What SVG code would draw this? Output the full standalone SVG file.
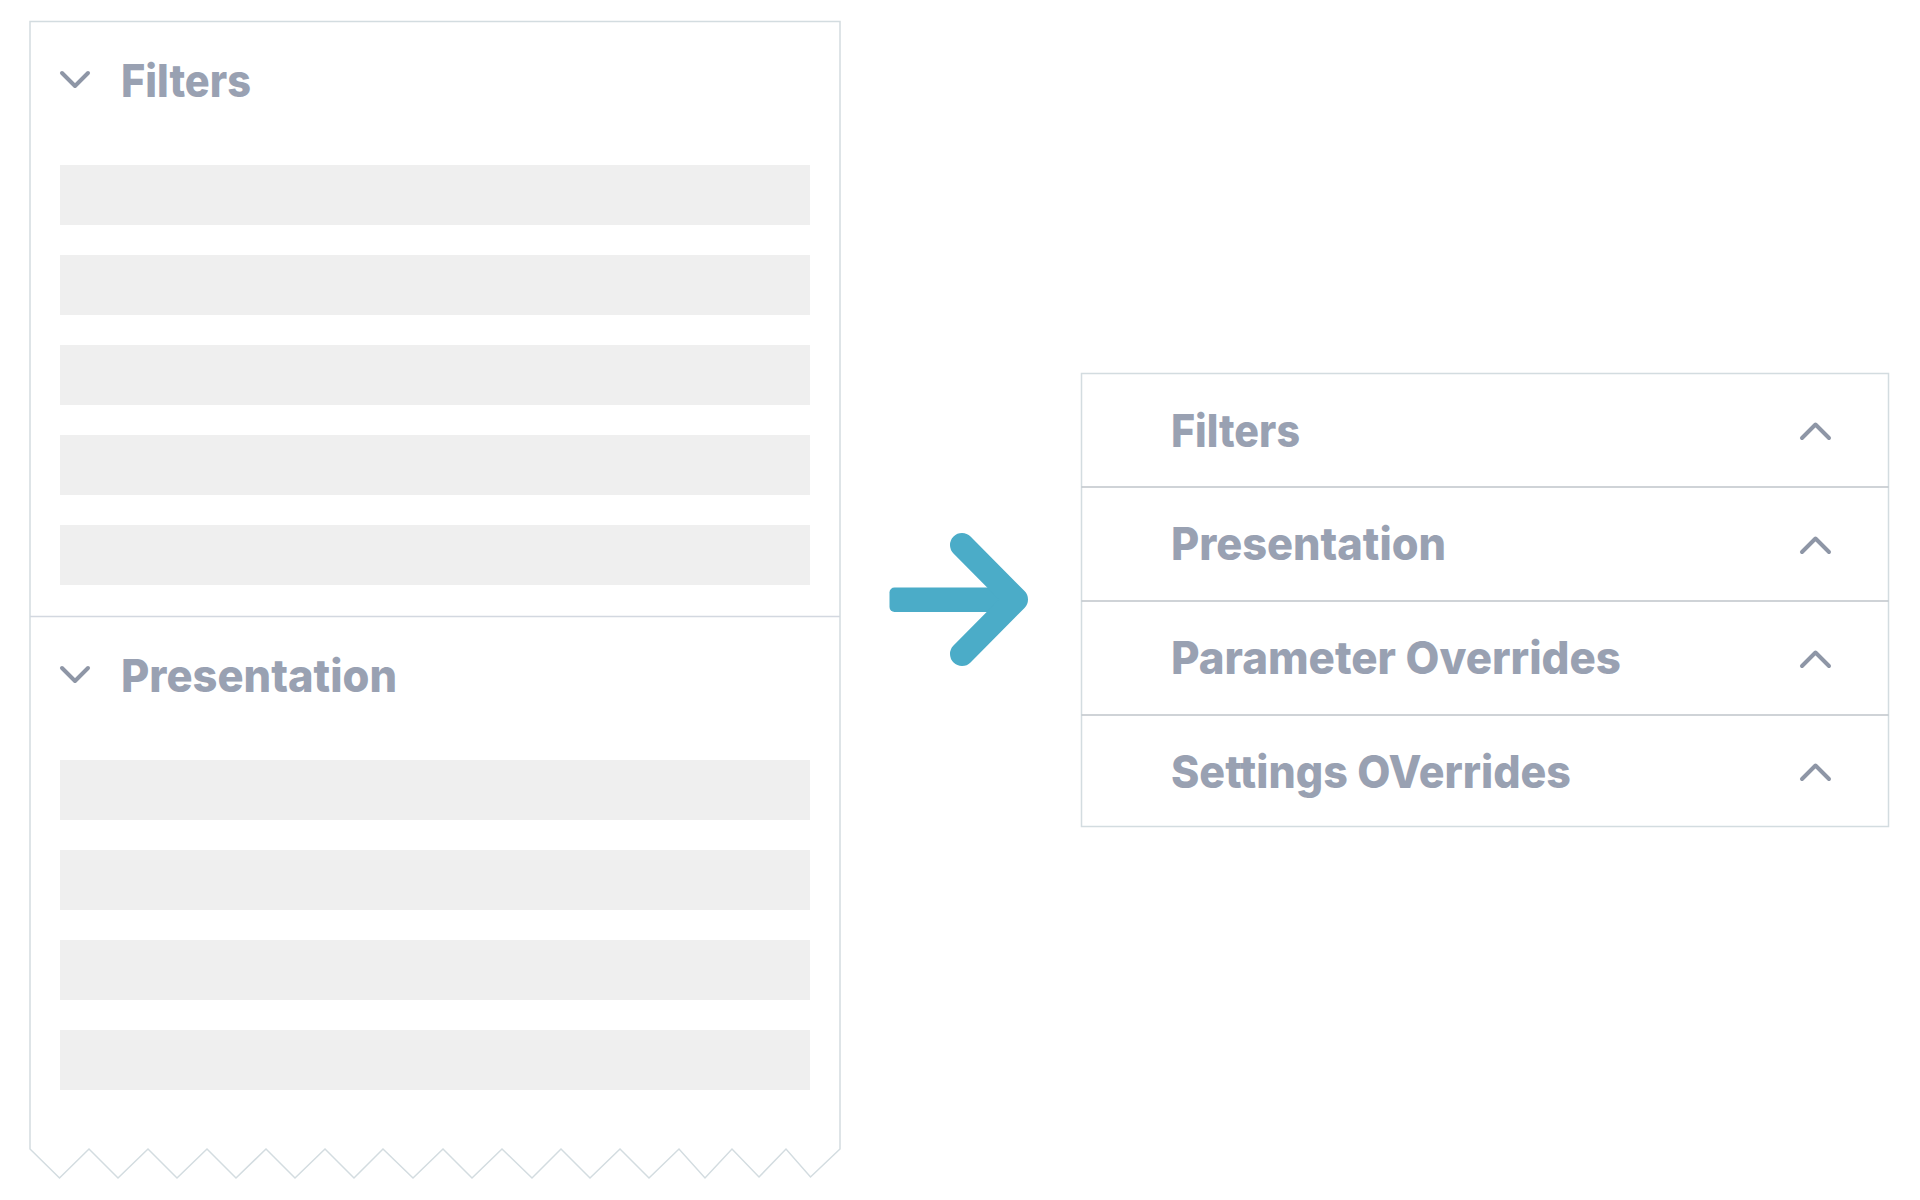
<svg xmlns="http://www.w3.org/2000/svg" width="1920" height="1200" viewBox="0 0 1920 1200">
<style>
.t{font-family:"Inter","Open Sans","Liberation Sans",sans-serif;font-weight:800;font-size:45px;fill:#99A1B2}
.bar{fill:#EFEFEF}
.chev{fill:none;stroke:#8E96A6;stroke-width:4;stroke-linecap:round;stroke-linejoin:round}
.brd{fill:none;stroke:#D3DCE0;stroke-width:1.5}
.div{stroke:#BFC4CA;stroke-width:1.5}
</style>
<rect width="1920" height="1200" fill="#FFFFFF"/>
<g id="left-panel">
<path class="brd" d="M30,1149 L30,21.5 L840,21.5 L840,1149 L810.5,1177 L786,1149 L759,1177 L732,1149 L705,1178 L679,1149 L649,1178 L620,1149 L590,1178 L561,1149 L532,1178 L502,1149 L472,1178 L443,1149 L413,1178 L383,1149 L354,1178 L325,1149 L295,1178 L266,1149 L236,1178 L207,1149 L177,1178 L148,1149 L118,1178 L89,1149 L59.5,1178 Z" fill="#FFFFFF"/>
<line class="div" x1="30" y1="616.5" x2="840" y2="616.5" style="stroke:#D3D8E0"/>
</g>
<g id="left-filters">
<polyline class="chev" points="62,73 75,86 88,73"/>
<text class="t" x="121" y="97" textLength="130" lengthAdjust="spacingAndGlyphs">Filters</text>
<rect class="bar" x="60" y="165" width="750" height="60"/>
<rect class="bar" x="60" y="255" width="750" height="60"/>
<rect class="bar" x="60" y="345" width="750" height="60"/>
<rect class="bar" x="60" y="435" width="750" height="60"/>
<rect class="bar" x="60" y="525" width="750" height="60"/>
</g>
<g id="left-presentation">
<polyline class="chev" points="62,668 75,681 88,668"/>
<text class="t" x="121" y="692" textLength="276" lengthAdjust="spacingAndGlyphs">Presentation</text>
<rect class="bar" x="60" y="760" width="750" height="60"/>
<rect class="bar" x="60" y="850" width="750" height="60"/>
<rect class="bar" x="60" y="940" width="750" height="60"/>
<rect class="bar" x="60" y="1030" width="750" height="60"/>
</g>
<g id="connectors">
<rect x="889.5" y="587.5" width="128" height="24.5" rx="5" fill="#4BACC8"/>
<polyline points="962,545 1016,599.5 962,654" fill="none" stroke="#4BACC8" stroke-width="24" stroke-linecap="round" stroke-linejoin="round"/>
</g>
<g id="right-panel">
<rect class="brd" x="1081.5" y="373.5" width="807" height="453" fill="#FFFFFF"/>
<line class="div" x1="1081.5" y1="487" x2="1888.5" y2="487"/>
<line class="div" x1="1081.5" y1="601" x2="1888.5" y2="601"/>
<line class="div" x1="1081.5" y1="715" x2="1888.5" y2="715"/>
</g>
<g id="row-filters">
<text class="t" x="1171" y="447" textLength="129" lengthAdjust="spacingAndGlyphs">Filters</text>
<polyline class="chev" points="1802,438 1815.5,424.5 1829,438"/>
</g>
<g id="row-presentation">
<text class="t" x="1171" y="560" textLength="275" lengthAdjust="spacingAndGlyphs">Presentation</text>
<polyline class="chev" points="1802,552 1815.5,538.5 1829,552"/>
</g>
<g id="row-parameter-overrides">
<text class="t" x="1171" y="673.5" textLength="450" lengthAdjust="spacingAndGlyphs">Parameter Overrides</text>
<polyline class="chev" points="1802,666 1815.5,652.5 1829,666"/>
</g>
<g id="row-settings-overrides">
<text class="t" x="1171" y="787.5" textLength="400" lengthAdjust="spacingAndGlyphs">Settings OVerrides</text>
<polyline class="chev" points="1802,779 1815.5,765.5 1829,779"/>
</g>
</svg>
